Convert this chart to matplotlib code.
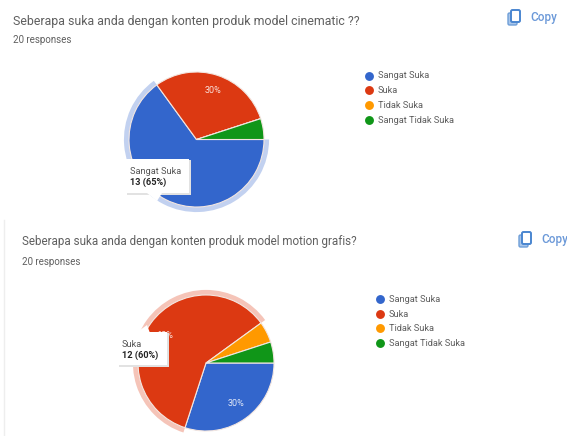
import matplotlib
matplotlib.use("Agg")
import matplotlib.pyplot as plt
from matplotlib.patches import FancyBboxPatch, Polygon, Rectangle

plt.rcParams['font.family'] = ['Roboto', 'DejaVu Sans']

W, H = 567, 436

categories = ["Sangat Suka", "Suka", "Tidak Suka", "Sangat Tidak Suka"]
colors = ["#3366cc", "#dc3912", "#ff9900", "#109618"]
halo_colors = ["#c2d1f0", "#f5c4b8"]

values_cinematic = [13, 6, 0, 1]
values_motion = [6, 12, 1, 1]

title_cinematic = "Seberapa suka anda dengan konten produk model cinematic ??"
title_motion = "Seberapa suka anda dengan konten produk model motion grafis?"
responses = "20 responses"
TEXT = "#5f5f5f"

fig = plt.figure(figsize=(W / 100, H / 100), dpi=100, facecolor="white")


def pixel_axes(zorder):
    ax = fig.add_axes([0, 0, 1, 1], zorder=zorder)
    ax.set_xlim(0, W)
    ax.set_ylim(H, 0)
    ax.axis("off")
    ax.patch.set_alpha(0)
    return ax


canvas = pixel_axes(0)
overlay = pixel_axes(3)


def pie_at(cx, cy, r, values, highlight, halo, pct_labels):
    """Draw a pie centred at pixel (cx, cy) with an outer ring on one slice."""
    box = r * 1.2
    ax = fig.add_axes([(cx - box) / W, 1 - (cy + box) / H, 2 * box / W, 2 * box / H], zorder=1)
    ring = ["none"] * len(values)
    ring[highlight] = halo
    ax.pie(values, radius=1.075, startangle=0, counterclock=False, colors=ring,
           wedgeprops=dict(linewidth=0), frame=False)
    ax.pie(values, radius=1.0, startangle=0, counterclock=False, colors=colors,
           wedgeprops=dict(linewidth=0.8, edgecolor="#f3e6e0"), frame=False)
    ax.set_xlim(-1.2, 1.2)
    ax.set_ylim(-1.2, 1.2)
    ax.set_aspect("equal")
    ax.axis("off")
    for x, y, s in pct_labels:
        ax.text(x, y, s, color="white", fontsize=6.5, ha="center", va="center", alpha=0.85)


def tooltip(x, y, w, h, tip, name, detail):
    overlay.add_patch(Rectangle((x + 1, y + 1), w + 1, h + 1, fc="#e2e2e2", ec="none", zorder=4))
    overlay.add_patch(Polygon(tip, closed=True, fc="white", ec="none", zorder=5))
    overlay.add_patch(Rectangle((x, y), w, h, fc="white", ec="none", zorder=5))
    overlay.text(x + 4, y + 12, name, fontsize=6.6, color="#555555", va="center", zorder=6)
    overlay.text(x + 4, y + 23, detail, fontsize=6.6, color="#222222", weight="bold", va="center", zorder=6)


def legend_at(x, ys):
    for y, name, c in zip(ys, categories, colors):
        canvas.plot([x], [y], "o", ms=6.4, color=c, mec="none")
        canvas.text(x + 9, y, name, fontsize=6.7, color=TEXT, va="center")


def copy_button(x, y):
    canvas.add_patch(FancyBboxPatch((x, y + 3), 9, 12, boxstyle="round,pad=0,rounding_size=1.5",
                                    fc="#a9c6ea", ec="#6f9fd8", lw=1.0))
    canvas.add_patch(FancyBboxPatch((x + 3, y), 9, 12, boxstyle="round,pad=0,rounding_size=1.5",
                                    fc="white", ec="#4a86d0", lw=1.4))
    canvas.text(x + 22, y + 7, "Copy", fontsize=8.4, color="#6a98d8", weight="medium", va="center")


# First block: cinematic
canvas.text(13, 21, title_cinematic, fontsize=8.9, color=TEXT, va="center")
canvas.text(13, 40, responses, fontsize=7, color=TEXT, va="center")
pie_at(196.5, 139.5, 67.5, values_cinematic, 0, halo_colors[0], [(0.245, 0.72, "30%")])
tooltip(126, 159, 63, 34, [(147, 193), (162, 193), (157, 201)], "Sangat Suka", "13 (65%)")
legend_at(369, [76, 90.5, 105, 120])
copy_button(508, 10)

# Second block: motion grafis
canvas.add_line(plt.Line2D([4, 4], [220, 436], color="#eeeeee", lw=1))
canvas.text(22, 241, title_motion, fontsize=8.35, color=TEXT, va="center")
canvas.text(22, 262, responses, fontsize=7, color=TEXT, va="center")
pie_at(206, 363, 68, values_motion, 1, halo_colors[1], [(0.44, -0.60, "30%"), (-0.60, 0.41, "60%")])
tooltip(118, 332, 49, 33, [(136, 333), (150, 333), (147, 325)], "Suka", "12 (60%)")
legend_at(380, [299, 314, 328, 343])
copy_button(519, 232)

fig.savefig("out.png", dpi=100, facecolor="white")
